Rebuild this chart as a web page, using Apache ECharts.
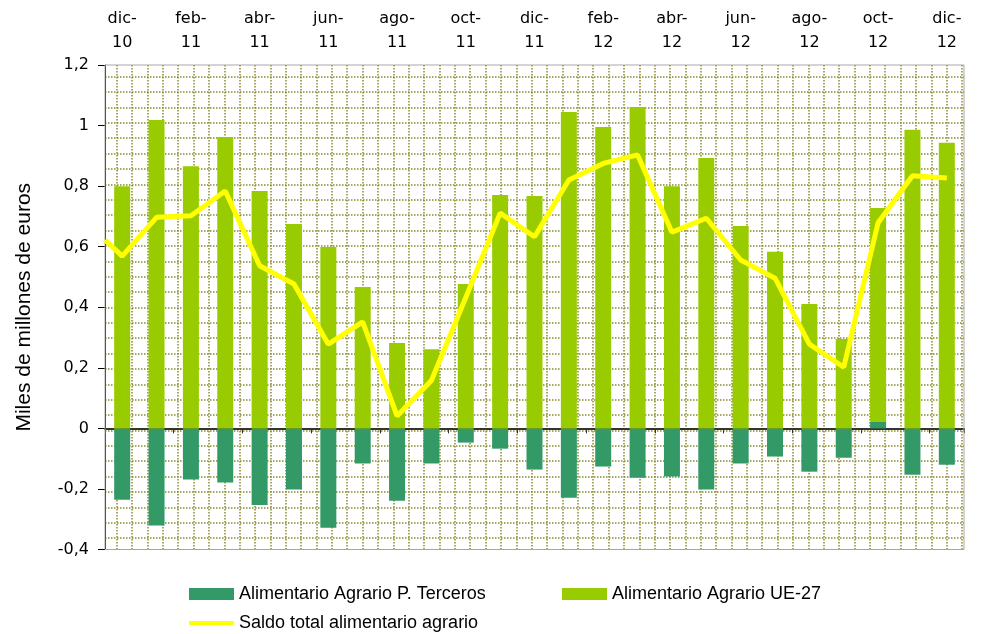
<!DOCTYPE html>
<html>
<head>
<meta charset="utf-8">
<script src="https://cdn.jsdelivr.net/npm/echarts@6/dist/echarts.min.js"></script>
<style>html,body{margin:0;padding:0;background:#fff}#c{width:982px;height:634px}</style>
</head>
<body>
<div id="c"></div>
<script>
const categories = ['dic-10','ene-11','feb-11','mar-11','abr-11','may-11','jun-11','jul-11','ago-11','sep-11','oct-11','nov-11','dic-11','ene-12','feb-12','mar-12','abr-12','may-12','jun-12','jul-12','ago-12','sep-12','oct-12','nov-12','dic-12'];
const terceros = [-0.236,-0.321,-0.169,-0.179,-0.253,-0.202,-0.328,-0.116,-0.239,-0.116,-0.047,-0.067,-0.136,-0.229,-0.126,-0.163,-0.159,-0.202,-0.116,-0.093,-0.143,-0.097,0.021,-0.153,-0.120];
const ue27 = [0.800,1.018,0.866,0.962,0.784,0.675,0.599,0.467,0.282,0.261,0.477,0.771,0.767,1.045,0.995,1.061,0.800,0.893,0.668,0.583,0.411,0.295,0.707,0.986,0.943];
const saldo = [0.569,0.697,0.702,0.784,0.537,0.477,0.278,0.352,0.041,0.158,0.432,0.711,0.633,0.820,0.875,0.903,0.648,0.694,0.556,0.496,0.278,0.202,0.679,0.834,0.827];
const saldoStart = 0.622; // value where the line enters at the left edge of the plot
const yTicks = {min: -0.4, max: 1.2, interval: 0.2};
const seriesNames = ['Alimentario Agrario P. Terceros', 'Alimentario Agrario UE-27', 'Saldo total alimentario agrario'];

const lineData = [[-0.5, saldoStart]].concat(saldo.map((v, i) => [i, v]));
const dotColor = '#8a8a2e';
const dotStyle = {color: dotColor, type: [1.5, 1.5], width: 1.5};
const chart = echarts.init(document.getElementById('c'));
const legendText = {fontFamily: 'Liberation Sans', fontSize: 18, color: '#000', lineHeight: 20};

chart.setOption({
  animation: false,
  backgroundColor: '#fff',
  grid: [
    {left: 105, right: 18, top: 65, bottom: 84.5, show: true, borderColor: '#a8a8a8', borderWidth: 1, backgroundColor: 'transparent', z: 1},
    {left: 101.3, width: 876.1, top: 65, bottom: 84.5},
    {left: 105, right: 18, top: 61.3, height: 492.2},
    {left: 105, right: 18, top: 65, bottom: 84.5}
  ],
  xAxis: [
    {type: 'category', gridIndex: 0, data: categories, position: 'top',
     axisLine: {show: false, onZero: false}, axisTick: {show: false},
     axisLabel: {interval: 1, margin: 10, fontFamily: 'DejaVu Sans', fontSize: 16, lineHeight: 24, color: '#000',
                 formatter: v => v.replace('-', '-\n')}},
    {type: 'category', gridIndex: 0, data: categories, position: 'bottom',
     axisLine: {show: true, onZero: true, onZeroAxisIndex: 0, lineStyle: {color: '#333', width: 2}},
     axisTick: {show: true, interval: 1, length: 5, lineStyle: {color: '#333', width: 1}},
     axisLabel: {show: false}},
    {type: 'value', gridIndex: 1, min: 0, max: 57, interval: 1,
     axisLine: {show: false}, axisTick: {show: false}, axisLabel: {show: false},
     splitLine: {show: true, showMinLine: false, showMaxLine: false, lineStyle: dotStyle}},
    {type: 'value', gridIndex: 2, min: 0, max: 1, show: false, splitLine: {show: false}},
    {type: 'value', gridIndex: 3, min: -0.5, max: 24.5, show: false, splitLine: {show: false}}
  ],
  yAxis: [
    {type: 'value', gridIndex: 0, min: yTicks.min, max: yTicks.max, interval: yTicks.interval,
     axisLine: {show: true, onZero: false, lineStyle: {color: '#000', width: 1}},
     axisTick: {show: true, length: 7, lineStyle: {color: '#000'}},
     axisLabel: {margin: 16, fontFamily: 'DejaVu Sans', fontSize: 16, color: '#000',
                 formatter: v => String(Math.round(v * 10) / 10).replace('.', ',')},
     splitLine: {show: false},
     name: 'Miles de millones de euros', nameLocation: 'middle', nameGap: 70,
     nameTextStyle: {fontFamily: 'Liberation Sans', fontSize: 21, color: '#000'}},
    {type: 'value', gridIndex: 1, min: 0, max: 1, show: false, splitLine: {show: false}},
    {type: 'value', gridIndex: 2, min: 0, max: 32, interval: 1,
     axisLine: {show: false}, axisTick: {show: false}, axisLabel: {show: false},
     splitLine: {show: true, showMinLine: false, showMaxLine: false, lineStyle: dotStyle}},
    {type: 'value', gridIndex: 3, min: yTicks.min, max: yTicks.max, show: false, splitLine: {show: false}}
  ],
  legend: [
    {data: [seriesNames[0]], left: 189, top: 584, padding: 0, itemWidth: 45, itemHeight: 12, textStyle: legendText, icon: 'rect'},
    {data: [seriesNames[1]], left: 562, top: 584, padding: 0, itemWidth: 45, itemHeight: 12, textStyle: legendText, icon: 'rect'},
    {data: [seriesNames[2]], left: 189, top: 613, padding: 0, itemWidth: 45, itemHeight: 4, textStyle: legendText, icon: 'roundRect'}
  ],
  series: [
    {name: seriesNames[0], type: 'bar', xAxisIndex: 0, yAxisIndex: 0, stack: 'total', barWidth: 16,
     itemStyle: {color: '#339966'}, data: terceros},
    {name: seriesNames[1], type: 'bar', xAxisIndex: 0, yAxisIndex: 0, stack: 'total', barWidth: 16,
     itemStyle: {color: '#99cc00'}, data: ue27},
    {name: seriesNames[2], type: 'line', xAxisIndex: 4, yAxisIndex: 3, symbol: 'none', z: 5,
     lineStyle: {color: '#ffff00', width: 5}, itemStyle: {color: '#ffff00'}, data: lineData}
  ]
});
</script>
</body>
</html>
